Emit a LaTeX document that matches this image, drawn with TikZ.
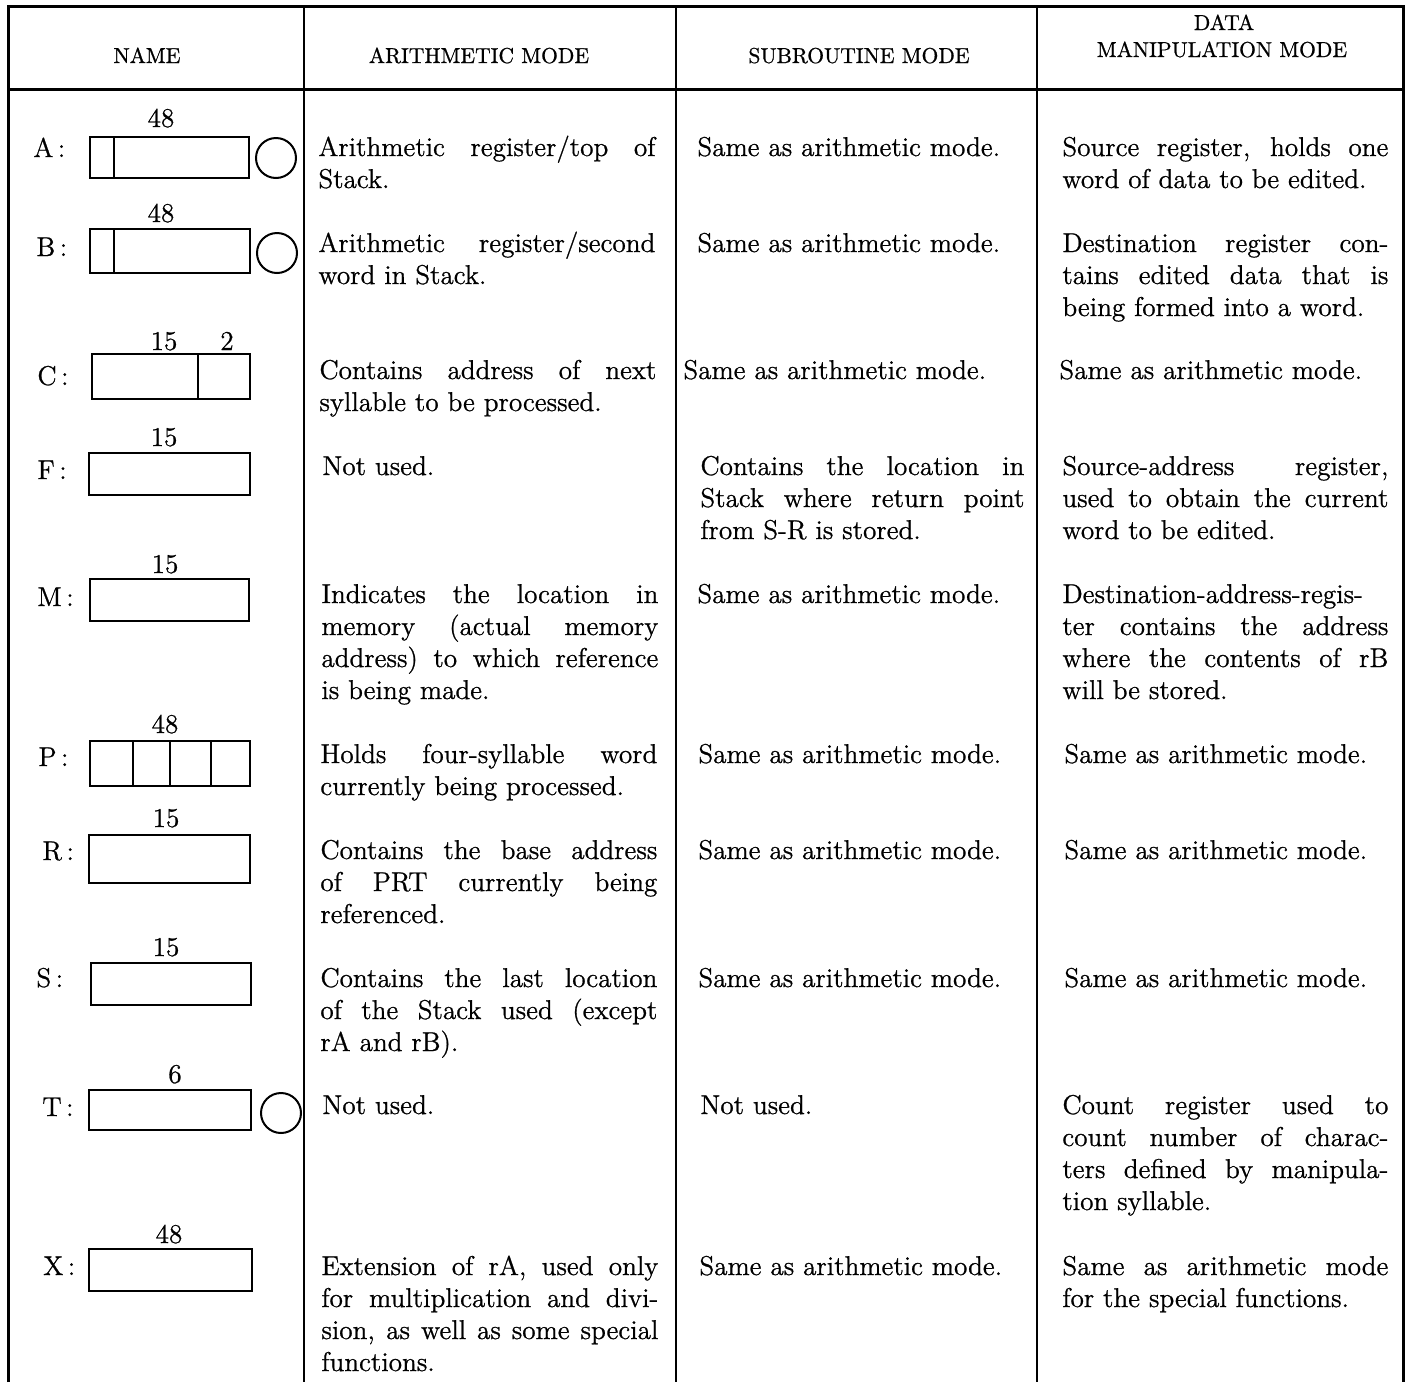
\documentclass[tikz,border=0pt]{standalone}
\usepackage{fontspec}
\setmainfont{Latin Modern Roman}[FakeBold=0.8]
\usepackage{tikz}
\usetikzlibrary{positioning}

\newcommand\cellfont{\fontsize{13.6}{16}\selectfont\sloppy}
\newcommand\headfont{\fontsize{10.8}{14}\selectfont}

\tikzset{
  cell/.style={anchor=base west, inner sep=0pt, align=justify, font=\cellfont},
  arcell/.style={cell, text width=168.5pt},
  sucell/.style={cell, text width=162pt},
  dmcell/.style={cell, text width=163pt},
  regname/.style={anchor=base west, inner sep=0pt, font=\cellfont},
  bits/.style={anchor=base, inner sep=0pt, font=\cellfont},
  head/.style={anchor=base, inner sep=0pt, font=\headfont},
  regbox/.style={line width=1pt},
  rule/.style={line width=1.1pt},
  frame/.style={line width=1.5pt}
}

\begin{document}
\begin{tikzpicture}[x=0.5pt,y=-0.5pt]
            \useasboundingbox (0,0) rectangle (1408,1382);
            % table frame
            \draw[frame] (8,1382)--(8,6)--(1403,6)--(1403,1382);
            \draw[frame] (8,89)--(1403,89);
            \foreach \cx in {304,676,1037}
                \draw[rule] (\cx,6)--(\cx,1382);
            % headings
            \node[head] (hName) at (147,63) {NAME};
            \node[head] (hArith) at (479,63) {ARITHMETIC MODE};
            \node[head] (hSub) at (859,63) {SUBROUTINE MODE};
            \node[head] (hData) at (1224,30) {DATA};
            \node[head] (hManip) at (1222,57) {MANIPULATION MODE};

            % registers
            \node[regname] (nA) at (33,157) {A\,:};
            \node[bits] (wA) at (161,127) {48};
            \draw[regbox] (90,137) rectangle (249,178);
            \draw[regbox] (114,137)--(114,178);
            \draw[regbox] (276,158) circle (20);

            \node[regname] (nB) at (36,256) {B\,:};
            \node[bits] (wB) at (161,222) {48};
            \draw[regbox] (90,229) rectangle (250,273);
            \draw[regbox] (114,229)--(114,273);
            \draw[regbox] (277,253) circle (20);

            \node[regname] (nC) at (37,385) {C\,:};
            \node[bits] (wC) at (164,350) {15};
            \node[bits] (wC2) at (227,350) {2};
            \draw[regbox] (92,354) rectangle (250,399);
            \draw[regbox] (198,354)--(198,399);

            \node[regname] (nF) at (37,479) {F\,:};
            \node[bits] (wF) at (164,446) {15};
            \draw[regbox] (89,453) rectangle (250,495);

            \node[regname] (nM) at (37,606) {M\,:};
            \node[bits] (wM) at (165,573) {15};
            \draw[regbox] (90,579) rectangle (249,621);

            \node[regname] (nP) at (38,766) {P\,:};
            \node[bits] (wP) at (165,733) {48};
            \draw[regbox] (90,741) rectangle (250,786);
            \foreach \dx in {133,170,211}
                \draw[regbox] (\dx,741)--(\dx,786);

            \node[regname] (nR) at (42,860) {R\,:};
            \node[bits] (wR) at (166,827) {15};
            \draw[regbox] (89,835) rectangle (250,883);

            \node[regname] (nS) at (36,987) {S\,:};
            \node[bits] (wS) at (166,956) {15};
            \draw[regbox] (91,963) rectangle (251,1005);

            \node[regname] (nT) at (42,1116) {T\,:};
            \node[bits] (wT) at (175,1083) {6};
            \draw[regbox] (89,1090) rectangle (251,1130);
            \draw[regbox] (281,1113) circle (20);

            \node[regname] (nX) at (43,1275) {X\,:};
            \node[bits] (wX) at (169,1243) {48};
            \draw[regbox] (89,1249) rectangle (252,1291);

            % arithmetic mode
            \node[arcell] (arA) at (318,156) {Arithmetic register/top of\linebreak Stack.};
            \node[arcell] (arB) at (318,252) {Arithmetic register/second\linebreak word in Stack.};
            \node[arcell] (arC) at (319,379) {Contains address of next\linebreak syllable to be processed.};
            \node[arcell] (arF) at (322,475) {Not used.};
            \node[arcell] (arM) at (321,603) {Indicates the location in\linebreak memory (actual memory\linebreak address) to which reference\linebreak is being made.};
            \node[arcell] (arP) at (320,763) {Holds four-syllable word\linebreak currently being processed.};
            \node[arcell] (arR) at (320,859) {Contains the base address\linebreak of PRT currently being\linebreak referenced.};
            \node[arcell] (arS) at (320,987) {Contains the last location\linebreak of the Stack used (except\linebreak rA and rB).};
            \node[arcell] (arT) at (322,1114) {Not used.};
            \node[arcell] (arX) at (321,1275) {Extension of rA, used only\linebreak for multiplication and divi-\linebreak sion, as well as some special\linebreak functions.};

            % subroutine mode
            \node[sucell] (suA) at (697,156) {Same as arithmetic mode.};
            \node[sucell] (suB) at (697,252) {Same as arithmetic mode.};
            \node[sucell] (suC) at (683,379) {Same as arithmetic mode.};
            \node[sucell] (suF) at (700,475) {Contains the location in\linebreak Stack where return point\linebreak from S-R is stored.};
            \node[sucell] (suM) at (697,603) {Same as arithmetic mode.};
            \node[sucell] (suP) at (698,763) {Same as arithmetic mode.};
            \node[sucell] (suR) at (698,859) {Same as arithmetic mode.};
            \node[sucell] (suS) at (698,987) {Same as arithmetic mode.};
            \node[sucell] (suT) at (700,1114) {Not used.};
            \node[sucell] (suX) at (699,1275) {Same as arithmetic mode.};

            % data manipulation mode
            \node[dmcell] (dmA) at (1062,156) {Source register, holds one\linebreak word of data to be edited.};
            \node[dmcell] (dmB) at (1062,252) {Destination register con-\linebreak tains edited data that is\linebreak being formed into a word.};
            \node[dmcell] (dmC) at (1059,379) {Same as arithmetic mode.};
            \node[dmcell] (dmF) at (1062,475) {Source-address register,\linebreak used to obtain the current\linebreak word to be edited.};
            \node[dmcell] (dmM) at (1062,603) {Destination-address-regis-\linebreak ter contains the address\linebreak where the contents of rB\linebreak will be stored.};
            \node[dmcell] (dmP) at (1064,763) {Same as arithmetic mode.};
            \node[dmcell] (dmR) at (1064,859) {Same as arithmetic mode.};
            \node[dmcell] (dmS) at (1064,987) {Same as arithmetic mode.};
            \node[dmcell] (dmT) at (1062,1114) {Count register used to\linebreak count number of charac-\linebreak ters defined by manipula-\linebreak tion syllable.};
            \node[dmcell] (dmX) at (1062,1275) {Same as arithmetic mode\linebreak for the special functions.};
        \end{tikzpicture}
\end{document}
